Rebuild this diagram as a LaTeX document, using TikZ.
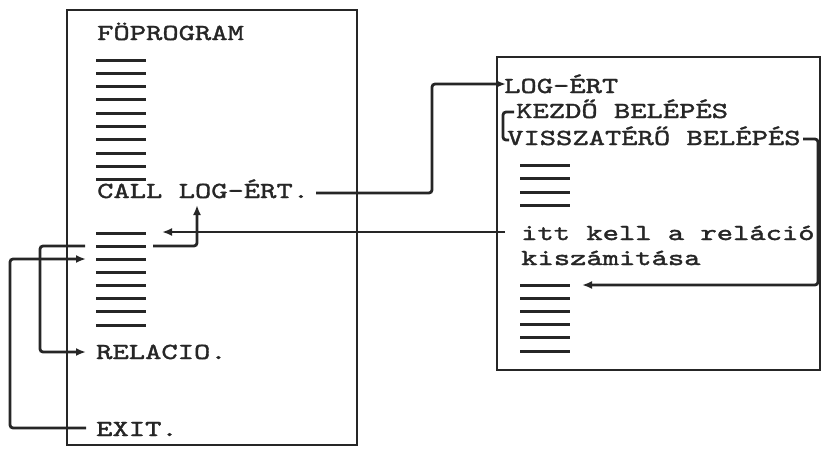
\documentclass[tikz,border=0pt]{standalone}
\usepackage{fontspec}
\usetikzlibrary{arrows.meta}
\newfontfamily\tw{lmmono10-regular.otf}[FakeStretch=1.35,FakeBold=1.6]
\begin{document}
\begin{tikzpicture}[x=1pt,y=-1pt,
  txt/.style={inner sep=0pt,anchor=base west,font=\tw\fontsize{23}{27}\selectfont,text=black!85},
  box/.style={line width=2.6pt,draw=black!85},
  dashline/.style={line width=3pt,draw=black!85},
  conn/.style={line width=2.8pt,draw=black!85,rounded corners=3pt},
  arr/.style={conn,-{Latex[length=10pt,width=8pt]}}]
\useasboundingbox (0,0) rectangle (822,448);
% boxes
\draw[box] (67,10) rectangle (357,445);
\draw[box] (497,57) rectangle (820,370);
% left box texts
\node[txt] (fo) at (97,40) {FÖPROGRAM};
\node[txt] (call) at (97,198) {CALL LOG-ÉRT.};
\node[txt] (rel) at (96,359) {RELACIO.};
\node[txt] (exit) at (96,436) {EXIT.};
% right box texts
\node[txt] (logert) at (504,93) {LOG-ÉRT};
\node[txt] (kezdo) at (516,118) {KEZDŐ BELÉPÉS};
\node[txt] (vissza) at (507,145) {VISSZATÉRŐ BELÉPÉS};
\node[txt] (itt) at (521,240) {itt kell a reláció};
\node[txt] (kisz) at (521,265) {kiszámitása};
% dash lines
\foreach \y in {60,73,86,99,113,126,139,153,166,179}
  \draw[dashline] (96,\y) -- (146,\y);
\foreach \y in {233,246,259,272,285,298,311,325}
  \draw[dashline] (96,\y) -- (146,\y);
\foreach \y in {165,178,192,205}
  \draw[dashline] (520,\y) -- (570,\y);
\foreach \y in {285,298,311,324,337,351}
  \draw[dashline] (520,\y) -- (570,\y);
% coordinates
\coordinate (callout) at (316,193);
\coordinate (login) at (506,84);
\coordinate (ittout) at (505,232);
\coordinate (ret) at (162,232);
\coordinate (bk) at (153,246);
\coordinate (callin) at (197,205);
\coordinate (jmp) at (85,246);
\coordinate (relin) at (86,352);
\coordinate (exitout) at (86,428);
\coordinate (loopin) at (86,259);
\coordinate (visout) at (803,139);
\coordinate (relcalc) at (582,285);
\coordinate (brtop) at (514,112);
\coordinate (brbot) at (509,140);
% connectors
\draw[arr] (callout) -- (432,193) |- (login);
\draw[arr] (ittout) -- (ret);
\draw[arr] (bk) -| (callin);
\draw[arr] (jmp) -- (40,246) |- (relin);
\draw[arr] (exitout) -- (10,428) |- (loopin);
\draw[arr] (visout) -- (818,139) |- (relcalc);
\draw[conn] (brtop) -- (503,112) |- (brbot);
\end{tikzpicture}
\end{document}
